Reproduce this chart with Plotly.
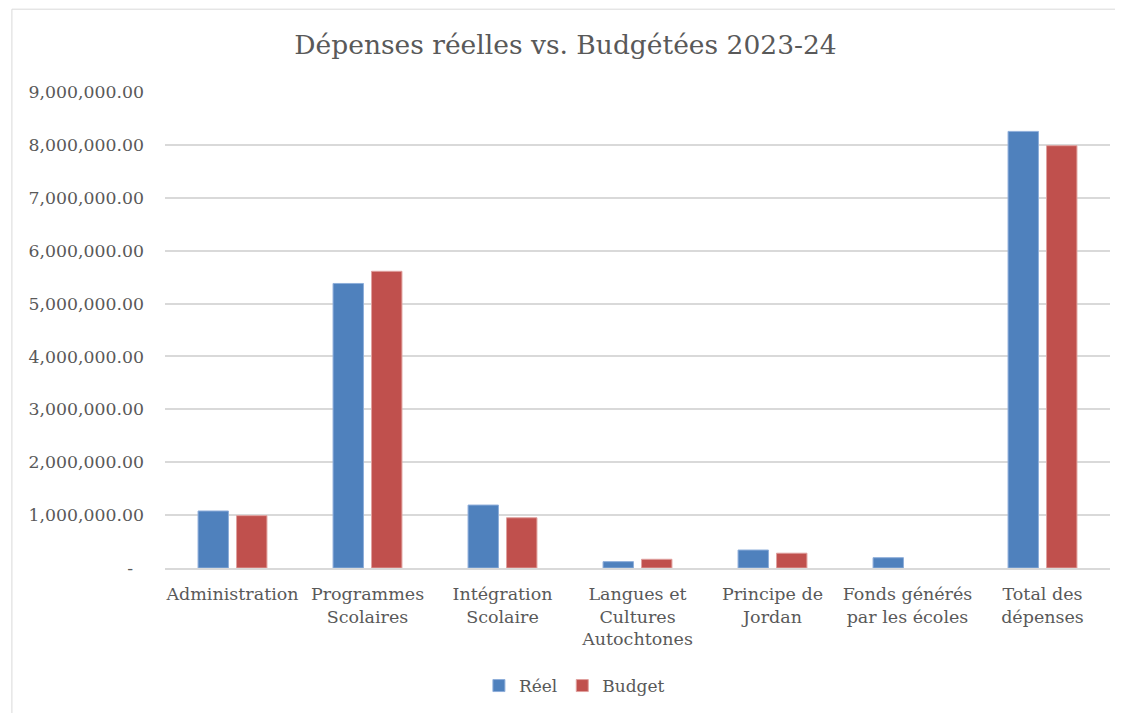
import plotly.graph_objects as go

categories = ["Administration", "Programmes<br>Scolaires", "Intégration<br>Scolaire",
              "Langues et<br>Cultures<br>Autochtones", "Principe de<br>Jordan",
              "Fonds générés<br>par les écoles", "Total des<br>dépenses"]
reel = [1078000, 5380000, 1190000, 120000, 340000, 195000, 8255000]
budget = [990000, 5610000, 950000, 165000, 280000, None, 7985000]
tick_vals = [0, 1e6, 2e6, 3e6, 4e6, 5e6, 6e6, 7e6, 8e6, 9e6]
tick_text = ["-" + "\u00a0" * 2] + [f"{v:,.2f}" for v in tick_vals[1:]]

FONT = "DejaVu Serif"
W, H = 1115, 705  # page body has an 8px margin
fig = go.Figure()
fig.add_trace(go.Bar(x=categories, y=reel, name="Réel", marker_color="#4F81BD",
                     marker_line=dict(color="#8EAEDA", width=1)))
fig.add_trace(go.Bar(x=categories, y=budget, name="Budget", marker_color="#C0504D",
                     marker_line=dict(color="#E0A09E", width=1)))

fig.update_layout(
    width=W, height=H,
    paper_bgcolor="white", plot_bgcolor="white",
    margin=dict(l=157, r=13, t=84, b=145, autoexpand=False),
    font=dict(family=FONT, color="#595959", size=17),
    title=dict(text="Dépenses réelles vs. Budgétées 2023-24", x=0.5, xanchor="center",
               y=1 - 37 / H, yanchor="middle",
               font=dict(family=FONT, size=26.5, color="#595959")),
    barmode="group", bargap=0.43, bargroupgap=0.21,
    showlegend=True,
    legend=dict(orientation="h", x=0.508, xanchor="center", xref="container",
                y=1 - 678 / H, yanchor="middle", yref="container",
                font=dict(family=FONT, size=17, color="#595959"), itemwidth=30),
    shapes=[dict(type="rect", xref="paper", yref="paper", x0=-0.162, x1=1.006,
                 y0=-0.4, y1=1.174, line=dict(color="#D9D9D9", width=1), layer="below")],
)
fig.update_yaxes(range=[0, 9e6], tickvals=tick_vals, ticktext=tick_text, automargin=False,
                 showgrid=True, gridcolor="#D9D9D9", gridwidth=1.5, zeroline=False,
                 ticks="", ticklabelstandoff=20,
                 tickfont=dict(size=17.3, family=FONT, color="#595959"))
fig.update_xaxes(showline=True, linecolor="#D9D9D9", linewidth=1.5, ticks="", automargin=False,
                 ticklabelstandoff=9,
                 tickfont=dict(size=17.5, family=FONT, color="#595959"))

fig.write_html("out.html")
